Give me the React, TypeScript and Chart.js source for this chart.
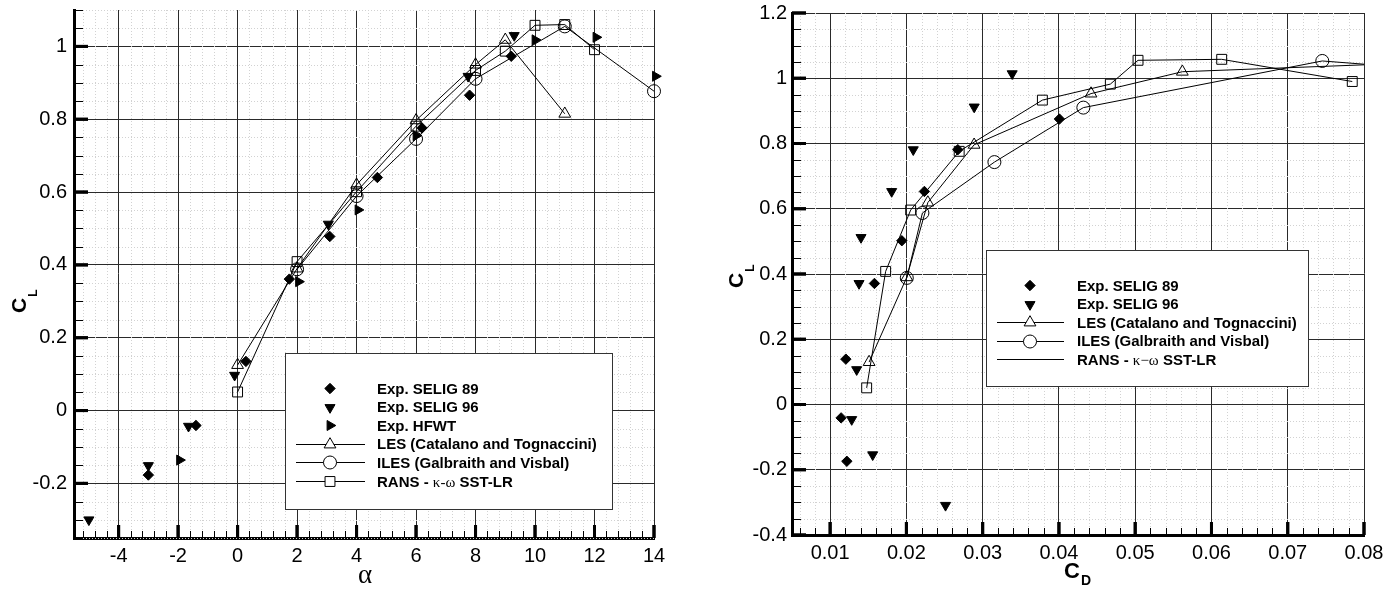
import React, { useEffect, useRef } from "react";
import { Chart, registerables } from "chart.js";
import { drawPoint } from "chart.js/helpers";

Chart.register(...registerables);

const SANS = "'Liberation Sans', Arial, Helvetica, sans-serif";
const SERIF = "'Liberation Serif', 'DejaVu Serif', serif";

// ---------------- Left chart: C_L vs alpha ----------------
const alphaTicks = [-4, -2, 0, 2, 4, 6, 8, 10, 12, 14];
const clTicksLeft = [-0.2, 0, 0.2, 0.4, 0.6, 0.8, 1];

const alphaSelig89 = [-3.0, -1.4, 0.28, 1.74, 3.1, 4.7, 6.2, 7.8, 9.2];
const clSelig89 = [-0.177, -0.041, 0.135, 0.361, 0.478, 0.64, 0.776, 0.866, 0.973];
const alphaSelig96 = [-5.0, -3.0, -1.65, -0.1, 3.05, 7.75, 9.3];
const clSelig96 = [-0.3, -0.151, -0.043, 0.097, 0.512, 0.918, 1.03];
const alphaHfwt = [-1.95, 2.05, 4.05, 6.0, 10.0, 12.05, 14.05];
const clHfwt = [-0.136, 0.354, 0.551, 0.755, 1.018, 1.025, 0.918];
const alphaLes = [0, 2, 4, 6, 8, 9, 11];
const clLes = [0.125, 0.39, 0.62, 0.797, 0.95, 1.018, 0.815];
const alphaIles = [2, 4, 6, 8, 11, 14];
const clIles = [0.388, 0.589, 0.746, 0.911, 1.055, 0.877];
const alphaRans = [0, 2, 4, 6, 8, 9, 10, 11, 12];
const clRans = [0.051, 0.409, 0.601, 0.781, 0.934, 0.987, 1.058, 1.06, 0.991];

// ---------------- Right chart: C_L vs C_D ----------------
const cdTicks = [0.01, 0.02, 0.03, 0.04, 0.05, 0.06, 0.07, 0.08];
const clTicksRight = [-0.4, -0.2, 0, 0.2, 0.4, 0.6, 0.8, 1, 1.2];

const cdSelig89 = [0.01144, 0.01219, 0.01206, 0.01581, 0.0194, 0.02236, 0.02674, 0.04006];
const clSelig89R = [-0.041, -0.174, 0.139, 0.371, 0.502, 0.653, 0.781, 0.875];
const cdSelig96 = [0.01283, 0.01558, 0.02513, 0.01348, 0.01379, 0.01405, 0.01807, 0.0209, 0.02889, 0.03387];
const clSelig96R = [-0.046, -0.154, -0.309, 0.107, 0.371, 0.512, 0.653, 0.781, 0.912, 1.014];
const cdLes = [0.01511, 0.02005, 0.02281, 0.02888, 0.04421, 0.05618, 0.09];
const clLesR = [0.13, 0.39, 0.619, 0.796, 0.953, 1.02, 1.05];
const cdIles = [0.02005, 0.0221, 0.03154, 0.0432, 0.07453, 0.09];
const clIlesR = [0.388, 0.587, 0.743, 0.91, 1.053, 1.025];
const cdRans = [0.01479, 0.01728, 0.02056, 0.02692, 0.03783, 0.04674, 0.05037, 0.06134, 0.07846];
const clRansR = [0.051, 0.408, 0.596, 0.776, 0.933, 0.982, 1.055, 1.058, 0.99];

const HOLLOW = "rgba(0,0,0,0)";
const ST = {
  selig89: { pointStyle: "rectRot", radius: 5.2, rotation: 0, fill: "#000" },
  selig96: { pointStyle: "triangle", radius: 5.8, rotation: 180, fill: "#000" },
  hfwt: { pointStyle: "triangle", radius: 5.8, rotation: 90, fill: "#000" },
  les: { pointStyle: "triangle", radius: 6.8, rotation: 0, fill: HOLLOW },
  iles: { pointStyle: "circle", radius: 6.5, rotation: 0, fill: HOLLOW },
  rans: { pointStyle: "rect", radius: 7, rotation: 0, fill: HOLLOW },
};

function fmt(v: number) {
  return String(Number(Number(v).toFixed(4)));
}

function range(start: number, end: number, step: number) {
  const out: number[] = [];
  const n = Math.round((end - start) / step);
  for (let i = 0; i <= n; i++) out.push(Number((start + i * step).toFixed(6)));
  return out;
}

function ds(label: string, xs: number[], ys: number[], st: any, showLine: boolean, clip: any) {
  return {
    label,
    data: xs.map((x, i) => ({ x, y: ys[i] })),
    showLine,
    borderColor: "#000",
    borderWidth: 1,
    backgroundColor: st.fill,
    pointStyle: st.pointStyle,
    pointRadius: st.radius,
    pointHoverRadius: st.radius,
    pointRotation: st.rotation,
    pointBorderColor: "#000",
    pointBackgroundColor: st.fill,
    pointBorderWidth: 1,
    tension: 0,
    clip,
  };
}

type TextPart = { t: string; f: string };
type LegendItem = { parts: TextPart[]; st: any | null; line: boolean };

const B15 = `bold 15px ${SANS}`;
const S15 = `15px ${SERIF}`;

const legendLeft: LegendItem[] = [
  { parts: [{ t: "Exp. SELIG 89", f: B15 }], st: ST.selig89, line: false },
  { parts: [{ t: "Exp. SELIG 96", f: B15 }], st: ST.selig96, line: false },
  { parts: [{ t: "Exp. HFWT", f: B15 }], st: ST.hfwt, line: false },
  { parts: [{ t: "LES (Catalano and Tognaccini)", f: B15 }], st: ST.les, line: true },
  { parts: [{ t: "ILES (Galbraith and Visbal)", f: B15 }], st: ST.iles, line: true },
  { parts: [{ t: "RANS - ", f: B15 }, { t: "κ-ω", f: S15 }, { t: " SST-LR", f: B15 }], st: ST.rans, line: true },
];
const legendRight: LegendItem[] = [
  { parts: [{ t: "Exp. SELIG 89", f: B15 }], st: ST.selig89, line: false },
  { parts: [{ t: "Exp. SELIG 96", f: B15 }], st: ST.selig96, line: false },
  { parts: [{ t: "LES (Catalano and Tognaccini)", f: B15 }], st: ST.les, line: true },
  { parts: [{ t: "ILES (Galbraith and Visbal)", f: B15 }], st: ST.iles, line: true },
  { parts: [{ t: "RANS - ", f: B15 }, { t: "κ−ω", f: S15 }, { t: " SST-LR", f: B15 }], st: null, line: true },
];

type Decor = {
  xMajor: number[];
  yMajor: number[];
  xMinor: number[];
  yMinor: number[];
  legend: { x: number; y: number; w: number; h: number; row0: number; gap: number; mx: number; l0: number; l1: number; tx: number; items: LegendItem[] };
  titles: (ctx: CanvasRenderingContext2D) => void;
};

function drawSub(ctx: CanvasRenderingContext2D, x: number, y: number, rot: number, main: string, sub: string, mainFont: string, subFont: string, drop: number) {
  ctx.save();
  ctx.translate(x, y);
  ctx.rotate(rot);
  ctx.fillStyle = "#000";
  ctx.textBaseline = "alphabetic";
  ctx.textAlign = "left";
  ctx.font = mainFont;
  ctx.fillText(main, 0, 0);
  const w = ctx.measureText(main).width;
  ctx.font = subFont;
  ctx.fillText(sub, w + 1, drop);
  ctx.restore();
}

function isMajor(v: number, majors: number[]) {
  return majors.some((m) => Math.abs(m - v) < 1e-9);
}

function makeDecor(d: Decor) {
  return {
    id: "decor",
    beforeDatasetsDraw(chart: any) {
      const { ctx, chartArea: a } = chart;
      const xs = chart.scales.x;
      const ys = chart.scales.y;
      ctx.save();
      ctx.strokeStyle = "#d2d2d2";
      ctx.lineWidth = 1;
      ctx.setLineDash([1, 2]);
      for (const v of d.xMinor) {
        if (isMajor(v, d.xMajor)) continue;
        const px = Math.round(xs.getPixelForValue(v)) + 0.5;
        ctx.beginPath();
        ctx.moveTo(px, a.top);
        ctx.lineTo(px, a.bottom);
        ctx.stroke();
      }
      for (const v of d.yMinor) {
        if (isMajor(v, d.yMajor)) continue;
        const py = Math.round(ys.getPixelForValue(v)) + 0.5;
        ctx.beginPath();
        ctx.moveTo(a.left, py);
        ctx.lineTo(a.right, py);
        ctx.stroke();
      }
      ctx.setLineDash([]);
      ctx.strokeStyle = "#000";
      // x ticks (inward)
      for (const v of d.xMinor.concat(d.xMajor)) {
        const major = isMajor(v, d.xMajor);
        const px = xs.getPixelForValue(v);
        ctx.lineWidth = major ? 3 : 1;
        const x = major ? px : Math.round(px) + 0.5;
        ctx.beginPath();
        ctx.moveTo(x, a.bottom);
        ctx.lineTo(x, a.bottom - (major ? 13 : 7));
        ctx.stroke();
      }
      for (const v of d.yMinor.concat(d.yMajor)) {
        const major = isMajor(v, d.yMajor);
        const py = ys.getPixelForValue(v);
        ctx.lineWidth = major ? 3 : 1;
        const y = major ? py : Math.round(py) + 0.5;
        ctx.beginPath();
        ctx.moveTo(a.left, y);
        ctx.lineTo(a.left + (major ? 14 : 9), y);
        ctx.stroke();
      }
      ctx.restore();
    },
    afterDatasetsDraw(chart: any) {
      const ctx: CanvasRenderingContext2D = chart.ctx;
      const L = d.legend;
      ctx.save();
      ctx.fillStyle = "#fff";
      ctx.fillRect(L.x, L.y, L.w, L.h);
      ctx.strokeStyle = "#333";
      ctx.lineWidth = 1;
      ctx.strokeRect(L.x + 0.5, L.y + 0.5, L.w, L.h);
      L.items.forEach((it, i) => {
        const y = L.row0 + i * L.gap;
        ctx.strokeStyle = "#000";
        ctx.lineWidth = 1;
        if (it.line) {
          ctx.beginPath();
          ctx.moveTo(L.l0, Math.round(y) + 0.5);
          ctx.lineTo(L.l1, Math.round(y) + 0.5);
          ctx.stroke();
        }
        if (it.st) {
          ctx.fillStyle = it.st.fill === HOLLOW ? "#fff" : "#000";
          drawPoint(ctx, { pointStyle: it.st.pointStyle, rotation: it.st.rotation, radius: it.st.radius, borderWidth: 1 } as any, L.mx, Math.round(y) + 0.5);
        }
        let tx = L.tx;
        ctx.fillStyle = "#000";
        ctx.textBaseline = "alphabetic";
        ctx.textAlign = "left";
        for (const p of it.parts) {
          ctx.font = p.f;
          ctx.fillText(p.t, tx, y + 5.5);
          tx += ctx.measureText(p.t).width;
        }
      });
      ctx.restore();
    },
    afterDraw(chart: any) {
      d.titles(chart.ctx);
    },
  };
}

function axisCommon(extra: any) {
  return {
    type: "linear",
    ticks: {
      autoSkip: false,
      maxRotation: 0,
      color: "#000",
      font: { family: SANS, size: 20 },
      callback: (v: number) => fmt(v),
      ...(extra.ticks || {}),
    },
    grid: { color: "#2a2a2a", lineWidth: 1, drawTicks: false },
    border: { display: true, color: "#000", width: 3 },
    ...extra.rest,
  };
}

function fixX(h: number) {
  return (s: any) => {
    s.height = h;
    s.paddingLeft = 0;
    s.paddingRight = 0;
    s.paddingTop = 0;
    s.paddingBottom = 0;
  };
}
function fixY(w: number) {
  return (s: any) => {
    s.width = w;
    s.paddingLeft = 0;
    s.paddingRight = 0;
    s.paddingTop = 0;
    s.paddingBottom = 0;
  };
}

function leftConfig(): any {
  const noClip = false;
  const decor = makeDecor({
    xMajor: alphaTicks,
    yMajor: clTicksLeft,
    xMinor: range(-5.2, 14, 0.4),
    yMinor: range(-0.35, 1.1, 0.05),
    legend: { x: 285, y: 353, w: 327, h: 156, row0: 388, gap: 18.6, mx: 330, l0: 296, l1: 365, tx: 377, items: legendLeft },
    titles: (ctx) => {
      drawSub(ctx, 26, 313, -Math.PI / 2, "C", "L", `bold 21px ${SANS}`, `bold 12px ${SANS}`, 11);
      ctx.save();
      ctx.fillStyle = "#000";
      ctx.font = `27px ${SERIF}`;
      ctx.textAlign = "center";
      ctx.textBaseline = "alphabetic";
      ctx.fillText("α", 365, 583);
      ctx.restore();
    },
  });
  return {
    type: "scatter",
    data: {
      datasets: [
        ds("Exp. SELIG 89", alphaSelig89, clSelig89, ST.selig89, false, noClip),
        ds("Exp. SELIG 96", alphaSelig96, clSelig96, ST.selig96, false, noClip),
        ds("Exp. HFWT", alphaHfwt, clHfwt, ST.hfwt, false, noClip),
        ds("LES (Catalano and Tognaccini)", alphaLes, clLes, ST.les, true, noClip),
        ds("ILES (Galbraith and Visbal)", alphaIles, clIles, ST.iles, true, noClip),
        ds("RANS - κ-ω SST-LR", alphaRans, clRans, ST.rans, true, noClip),
      ],
    },
    options: {
      responsive: false,
      animation: false,
      events: [],
      layout: { padding: { top: 10, right: 36, bottom: 0, left: 0 } },
      plugins: { legend: { display: false }, tooltip: { enabled: false }, title: { display: false } },
      scales: {
        x: axisCommon({
          ticks: { padding: 6 },
          rest: {
            min: -5.5,
            max: 14,
            afterBuildTicks: (s: any) => { s.ticks = alphaTicks.map((v) => ({ value: v })); },
            afterFit: fixX(56),
          },
        }),
        y: axisCommon({
          ticks: { padding: 7 },
          rest: {
            min: -0.35,
            max: 1.1,
            afterBuildTicks: (s: any) => { s.ticks = clTicksLeft.map((v) => ({ value: v })); },
            afterFit: fixY(74),
          },
        }),
      },
    },
    plugins: [decor],
  };
}

function rightConfig(): any {
  const edgeClip = { left: 10, top: 10, right: 0, bottom: 10 };
  const decor = makeDecor({
    xMajor: cdTicks,
    yMajor: clTicksRight,
    xMinor: range(0.006, 0.08, 0.002),
    yMinor: range(-0.4, 1.2, 0.05),
    legend: { x: 296, y: 250, w: 322, h: 136, row0: 285, gap: 18.5, mx: 340, l0: 307, l1: 374, tx: 387, items: legendRight },
    titles: (ctx) => {
      drawSub(ctx, 53, 288, -Math.PI / 2, "C", "L", `bold 21px ${SANS}`, `bold 12px ${SANS}`, 11);
      drawSub(ctx, 374, 578, 0, "C", "D", `bold 22px ${SANS}`, `bold 14px ${SANS}`, 7);
    },
  });
  return {
    type: "scatter",
    data: {
      datasets: [
        ds("Exp. SELIG 89", cdSelig89, clSelig89R, ST.selig89, false, false),
        ds("Exp. SELIG 96", cdSelig96, clSelig96R, ST.selig96, false, false),
        ds("LES (Catalano and Tognaccini)", cdLes, clLesR, ST.les, true, edgeClip),
        ds("ILES (Galbraith and Visbal)", cdIles, clIlesR, ST.iles, true, edgeClip),
        ds("RANS - κ−ω SST-LR", cdRans, clRansR, ST.rans, true, edgeClip),
      ],
    },
    options: {
      responsive: false,
      animation: false,
      events: [],
      layout: { padding: { top: 13, right: 22, bottom: 0, left: 0 } },
      plugins: { legend: { display: false }, tooltip: { enabled: false }, title: { display: false } },
      scales: {
        x: axisCommon({
          ticks: { padding: 6 },
          rest: {
            min: 0.005,
            max: 0.08,
            afterBuildTicks: (s: any) => { s.ticks = cdTicks.map((v) => ({ value: v })); },
            afterFit: fixX(59),
          },
        }),
        y: axisCommon({
          ticks: { padding: 5 },
          rest: {
            min: -0.4,
            max: 1.2,
            afterBuildTicks: (s: any) => { s.ticks = clTicksRight.map((v) => ({ value: v })); },
            afterFit: fixY(102),
          },
        }),
      },
    },
    plugins: [decor],
  };
}

function ChartCanvas({ make, left, width }: { make: () => any; left: number; width: number }) {
  const ref = useRef<HTMLCanvasElement | null>(null);
  useEffect(() => {
    const chart = new Chart(ref.current as HTMLCanvasElement, make());
    return () => chart.destroy();
  }, []);
  return (
    <canvas
      ref={ref}
      width={width}
      height={594}
      style={{ position: "absolute", left, top: 0, width, height: 594, display: "block" }}
    />
  );
}

export default function App() {
  return (
    <div style={{ position: "absolute", left: 0, top: 0, width: 1386, height: 594, background: "#fff", overflow: "hidden" }}>
      <ChartCanvas make={leftConfig} left={0} width={690} />
      <ChartCanvas make={rightConfig} left={690} width={696} />
    </div>
  );
}
